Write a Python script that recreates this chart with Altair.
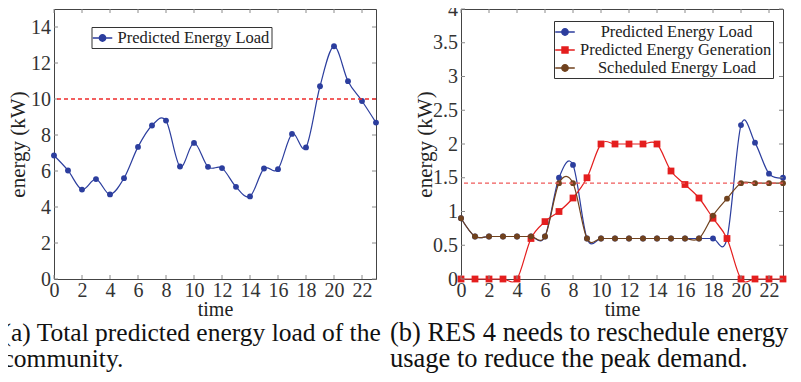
import altair as alt
import pandas as pd

# ---------------- data ----------------
hours = list(range(24))
total_load = [6.86, 6.03, 4.97, 5.55, 4.70, 5.60, 7.34, 8.53, 8.80, 6.25, 7.56, 6.23,
              6.16, 5.12, 4.59, 6.14, 6.10, 8.06, 7.31, 10.71, 12.93, 10.99, 9.89, 8.69]
pred_load = [0.90, 0.63, 0.63, 0.63, 0.63, 0.63, 0.63, 1.50, 1.69, 0.60, 0.60, 0.60,
             0.60, 0.60, 0.60, 0.60, 0.60, 0.60, 0.60, 0.60, 2.28, 2.02, 1.56, 1.50]
pred_gen = [0, 0, 0, 0, 0, 0.60, 0.85, 1.00, 1.20, 1.50, 2.00, 2.00,
            2.00, 2.00, 2.00, 1.60, 1.40, 1.20, 0.90, 0.60, 0, 0, 0, 0]
sched_load = [0.90, 0.63, 0.63, 0.63, 0.63, 0.63, 0.63, 1.42, 1.42, 0.60, 0.60, 0.60,
              0.60, 0.60, 0.60, 0.60, 0.60, 0.60, 0.94, 1.19, 1.42, 1.42, 1.42, 1.42]

left_threshold = 10
right_threshold = 1.42

left_yticks = [0, 2, 4, 6, 8, 10, 12, 14]
right_yticks = [0, 0.5, 1, 1.5, 2, 2.5, 3, 3.5, 4]
xticks = [0, 2, 4, 6, 8, 10, 12, 14, 16, 18, 20, 22]

caption_a = ["(a) Total predicted energy load of the", "community."]
caption_b = ["(b) RES 4 needs to reschedule energy", "usage to reduce the peak demand."]

# ---------------- style ----------------
BLUE, RED, BROWN = "#2c3e9e", "#e41e1e", "#70421e"
FONT = "Liberation Serif"
W, H = 322, 270
TICK = "#8a8a8a"
CIRCLE_SYM = "M-1.15,0H1.15M0.38,0A0.38,0.38,0,1,1,-0.38,0A0.38,0.38,0,1,1,0.38,0Z"
SQUARE_SYM = "M-1.15,0H1.15M-0.36,-0.36H0.36V0.36H-0.36Z"
ZW = "\u200b"   # keeps the leading spaces from being trimmed
NB = "\u00a0"


def panel(series, ydomain, yticks, yfmt, threshold, thr_color, lx, ly, legend_names,
          caption, cap_x, cap_size):
    xs = alt.Scale(domain=[0, 23], nice=False, zero=False)
    ys = alt.Scale(domain=ydomain, nice=False, zero=False)
    xax = alt.Axis(values=xticks, ticks=False, tickSize=0, domain=False, grid=False,
                   labelFont=FONT, labelFontSize=20, labelColor="#333", labelPadding=1,
                   labelFlush=False, labelOverlap=False, title="time", titleFont=FONT,
                   titleFontSize=20, titleFontWeight="normal", titleColor="#222",
                   titleY=36, titleBaseline="alphabetic")
    yax = alt.Axis(values=yticks, format=yfmt, ticks=False, tickSize=0, domain=False,
                   grid=False, labelFont=FONT, labelFontSize=20, labelColor="#333",
                   labelPadding=3.5, labelFlush=False, labelOverlap=False,
                   title="energy (kW)", titleFont=FONT, titleFontSize=21,
                   titleFontWeight="normal", titleColor="#222", titleX=-36, titleY=H / 2,
                   titleAngle=270, titleAlign="center", titleBaseline="middle")

    def X(f):
        return alt.X(f, scale=xs, axis=xax)

    def Y(f):
        return alt.Y(f, scale=ys, axis=yax)

    layers = []
    for name, vals, color, kind in series:
        base = alt.Chart(pd.DataFrame({"hour": hours, "value": vals}))
        layers.append(base.mark_line(interpolate="cardinal", color=color,
                                     strokeWidth=1.2).encode(x=X("hour:Q"), y=Y("value:Q")))
        if kind == "circle":
            layers.append(base.mark_circle(size=34, color=color, opacity=1).encode(
                x=X("hour:Q"), y=Y("value:Q")))
        else:
            layers.append(base.mark_square(size=46, color=color, opacity=1).encode(
                x=X("hour:Q"), y=Y("value:Q")))

    ydf = pd.DataFrame({"v": yticks})
    xdf = pd.DataFrame({"v": xticks})
    # inward ticks on all four sides
    layers.append(alt.Chart(ydf).mark_rule(color=TICK, strokeWidth=1).encode(
        y=Y("v:Q"), x=alt.value(0), x2=alt.value(4)))
    layers.append(alt.Chart(ydf).mark_rule(color=TICK, strokeWidth=1).encode(
        y=Y("v:Q"), x=alt.value(W - 4), x2=alt.value(W)))
    layers.append(alt.Chart(xdf).mark_rule(color=TICK, strokeWidth=1).encode(
        x=X("v:Q"), y=alt.value(H - 4), y2=alt.value(H)))
    layers.append(alt.Chart(xdf).mark_rule(color=TICK, strokeWidth=1).encode(
        x=X("v:Q"), y=alt.value(0), y2=alt.value(4)))
    # threshold
    layers.append(alt.Chart(pd.DataFrame({"t": [threshold]})).mark_rule(
        color=thr_color, strokeDash=[4, 3], strokeWidth=1.3).encode(y=Y("t:Q")))

    colors = [s[2] for s in series]
    shapes = [CIRCLE_SYM if s[3] == "circle" else SQUARE_SYM for s in series]
    leg = alt.Legend(title=None, orient="none", legendX=lx, legendY=ly, strokeColor="#333",
                     fillColor="white", padding=1.5, rowPadding=0, symbolSize=289,
                     symbolStrokeWidth=1.3, labelFont=FONT, labelFontSize=16.5,
                     labelColor="#222", labelOffset=5.5, labelLimit=0, labelAlign="left",
                     cornerRadius=0)
    n = len(legend_names)
    ldf = pd.DataFrame({"hour": [0] * n, "value": [0] * n, "series": legend_names})
    layers.append(alt.Chart(ldf).transform_filter("false").mark_point(
        filled=True, size=289, opacity=1, strokeWidth=1.3).encode(
        x=X("hour:Q"), y=Y("value:Q"),
        fill=alt.Fill("series:N", scale=alt.Scale(domain=legend_names, range=colors),
                      legend=leg),
        stroke=alt.Stroke("series:N", scale=alt.Scale(domain=legend_names, range=colors),
                          legend=leg),
        shape=alt.Shape("series:N", scale=alt.Scale(domain=legend_names, range=shapes),
                        legend=leg)))

    layers.append(alt.Chart(pd.DataFrame({"k": [0]})).mark_text(
        align="left", baseline="alphabetic", font=FONT, fontSize=cap_size, lineHeight=26,
        color="#111").encode(x=alt.value(cap_x), y=alt.value(332), text=alt.value(caption)))

    return alt.layer(*layers).properties(width=W, height=H)


left_series = [("Predicted Energy Load", total_load, BLUE, "circle")]
right_series = [("Predicted Energy Load", pred_load, BLUE, "circle"),
                ("Predicted Energy Generation", pred_gen, RED, "square"),
                ("Scheduled Energy Load", sched_load, BROWN, "circle")]
# legend entries of the right panel are centred in their box, as in the original
right_legend_names = [ZW + NB * 5 + right_series[0][0],
                      right_series[1][0],
                      ZW + NB * 4 + "\u200a" + right_series[2][0]]

left = panel(left_series, [0, 15], left_yticks, "d", left_threshold, "#ee2b2b",
             37.5, 18, [left_series[0][0]], caption_a, -51.5, 25.5)
right = panel(right_series, [0, 4], right_yticks, ".1~f", right_threshold, "#f05a5a",
              93, 12, right_legend_names, caption_b, -71, 26.5)

chart = alt.hconcat(left, right, spacing=85, bounds="flush").resolve_scale(
    x="independent", y="independent", fill="independent", stroke="independent",
    shape="independent").resolve_legend(
    fill="independent", stroke="independent", shape="independent").properties(
    padding={"left": -6, "top": -10, "right": 0, "bottom": 0},
    background="white").configure_view(stroke="#444", strokeWidth=1)

chart.save("out.html", embed_options={"renderer": "svg", "actions": False})
